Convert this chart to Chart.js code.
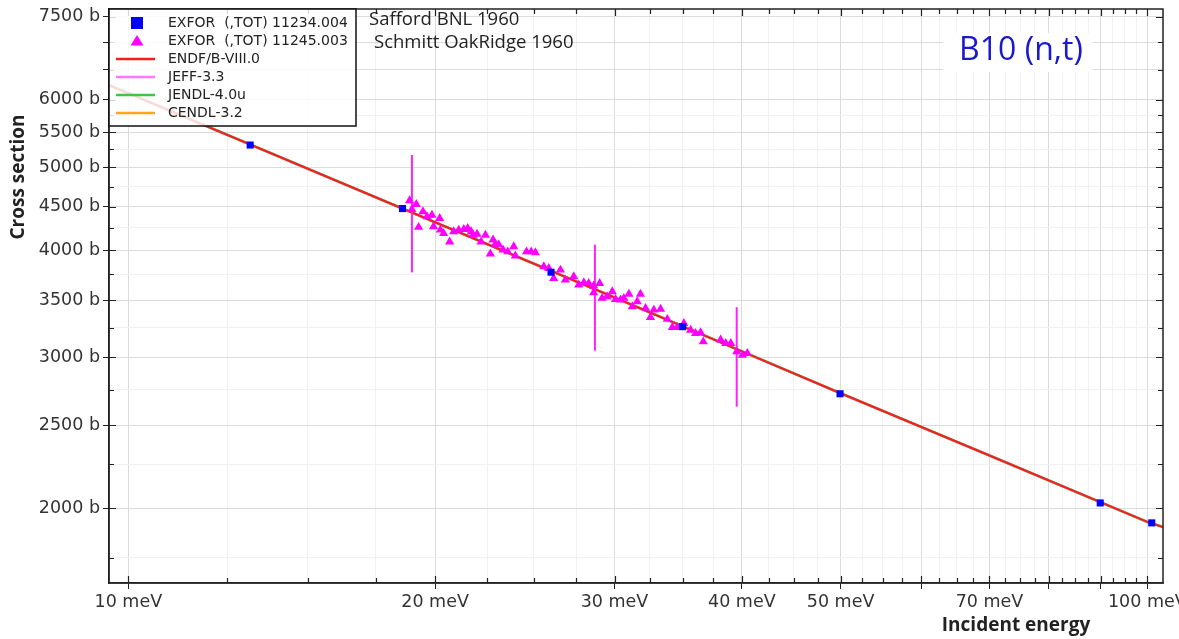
<!DOCTYPE html>
<html lang="en">
<head>
<meta charset="UTF-8">
<title>B10 (n,t) cross section</title>
<script src="https://cdn.jsdelivr.net/npm/chart.js"></script>
<style>
    body, html {
        margin: 0;
        padding: 0;
        background: #fff;
    }
    .graph-box {
        width: 1179px;
        height: 639px;
    }
</style>
</head>
<body>

<div class="graph-box">
    <canvas id="xsGraph" width="1179" height="639"></canvas>
</div>

<script>
// EXFOR 11234.004 - Safford BNL 1960 (energy in meV, cross section in b)
const saffordE  = [13.17, 18.58, 25.99, 34.99, 49.94, 89.9, 101.0];
const saffordXs = [5311, 4477, 3773, 3259, 2721, 2029, 1923];

// EXFOR 11245.003 - Schmitt OakRidge 1960
const schmittE = [18.88, 19.17, 18.98, 19.46, 19.27, 19.64, 19.86, 19.93, 20.21, 20.24,
                  20.39, 20.67, 20.86, 21.10, 21.34, 21.53, 21.70, 21.80, 21.99, 22.19,
                  22.41, 22.80, 22.92, 23.09, 22.66, 23.32, 23.57, 23.89, 23.98, 24.59,
                  24.85, 25.09, 25.57, 25.86, 26.15, 26.55, 26.85, 27.36, 27.67, 27.99,
                  28.30, 28.62, 28.62, 29.01, 29.17, 29.50, 29.85, 30.07, 30.41, 30.64,
                  30.99, 31.23, 31.58, 31.81, 32.18, 32.54, 32.79, 33.29, 33.80, 34.19,
                  34.57, 35.09, 35.63, 36.03, 36.44, 36.66, 38.13, 38.57, 39.01, 39.54,
                  40.05, 40.50];
const schmittXs = [4574, 4529, 4469, 4441, 4258, 4381, 4400, 4266, 4362, 4227,
                   4188, 4095, 4208, 4227, 4234, 4245, 4208, 4170, 4181, 4095,
                   4170, 4115, 4070, 4063, 3963, 4006, 3987, 4043, 3942, 3987,
                   3987, 3977, 3830, 3813, 3712, 3796, 3695, 3728, 3647, 3669,
                   3662, 3637, 3571, 3662, 3518, 3533, 3581, 3508, 3502, 3518,
                   3558, 3439, 3487, 3558, 3425, 3342, 3409, 3417, 3325, 3254,
                   3254, 3289, 3230, 3202, 3207, 3130, 3145, 3116, 3116, 3047,
                   3020, 3034];

// the three Schmitt error bars
const errE    = [18.98, 28.70, 39.54];
const errLow  = [3771, 3055, 2628];
const errHigh = [5171, 4063, 3434];

// evaluated curves (ENDF, JEFF, JENDL, CENDL all lie on top of each other)
const evalE  = [9.573, 20, 30, 40, 50, 70, 100, 103.6];
const evalXs = [6240, 4315, 3525, 3050, 2725, 2305, 1928, 1902];

// axis ticks
const xLabelTicks = [10, 20, 30, 40, 50, 70, 100];
const xMajorTicks = [10, 20, 30, 40, 50, 60, 70, 80, 90, 100];
const xMinorTicks = [12.5, 15, 17.5, 22.5, 25, 27.5, 32.5, 35, 37.5, 42.5, 45, 47.5,
                     52.5, 55, 57.5, 62.5, 65, 67.5, 72.5, 75, 77.5, 82.5, 85, 87.5,
                     92.5, 95, 97.5];
const yLabelTicks = [2000, 2500, 3000, 3500, 4000, 4500, 5000, 5500, 6000, 7500];
const yMajorTicks = [2000, 2500, 3000, 3500, 4000, 4500, 5000, 5500, 6000, 6500, 7000, 7500];
const yMinorTicks = [1750, 2250, 2750, 3250, 3750, 4250, 4750, 5250, 5750];

function toPoints(xs, ys) {
    return xs.map(function (x, i) { return { x: x, y: ys[i] }; });
}

var datasets = [];
datasets.push({
    label: 'EXFOR  (,TOT) 11234.004',
    data: toPoints(saffordE, saffordXs),
    pointStyle: 'rect', pointRadius: 5,
    backgroundColor: '#0000ff', borderColor: '#0000ff', borderWidth: 0,
    legendMark: 'rect', order: 0
});
datasets.push({
    label: 'EXFOR  (,TOT) 11245.003',
    data: toPoints(schmittE, schmittXs),
    pointStyle: 'triangle', pointRadius: 5.3,
    backgroundColor: '#ff00ff', borderColor: '#ff00ff', borderWidth: 0,
    legendMark: 'triangle', order: 1
});
// error bars, not in legend
for (let i = 0; i < errE.length; i++) {
    datasets.push({
        label: 'err' + i,
        data: [{ x: errE[i], y: errLow[i] }, { x: errE[i], y: errHigh[i] }],
        showLine: true, pointRadius: 0,
        borderColor: '#ff22ff', borderWidth: 2, order: 2
    });
}
datasets.push({
    label: 'ENDF/B-VIII.0', data: toPoints(evalE, evalXs),
    showLine: true, pointRadius: 0, borderColor: '#f0201a', borderWidth: 2,
    legendMark: 'line', order: 3
});
datasets.push({
    label: 'JEFF-3.3', data: toPoints(evalE, evalXs),
    showLine: true, pointRadius: 0, borderColor: '#ff77ff', borderWidth: 2,
    legendMark: 'line', order: 4
});
datasets.push({
    label: 'JENDL-4.0u', data: toPoints(evalE, evalXs),
    showLine: true, pointRadius: 0, borderColor: '#3cc83c', borderWidth: 2.6,
    legendMark: 'line', order: 5
});
datasets.push({
    label: 'CENDL-3.2', data: toPoints(evalE, evalXs),
    showLine: true, pointRadius: 0, borderColor: '#ffa51e', borderWidth: 2,
    legendMark: 'line', order: 6
});

// frame, inner ticks, legend box and the text notes
const decorPlugin = {
    id: 'decor',
    afterDatasetsDraw(chart) {
        const ctx = chart.ctx;
        const a = chart.chartArea;
        const xs = chart.scales.x, ys = chart.scales.y;
        ctx.save();

        // frame
        ctx.strokeStyle = '#222';
        ctx.lineWidth = 1.5;
        ctx.strokeRect(a.left, a.top, a.right - a.left, a.bottom - a.top);

        // inner ticks on all four sides
        ctx.lineWidth = 1.2;
        ctx.beginPath();
        xMajorTicks.concat(xMinorTicks).forEach(function (v) {
            const px = Math.round(xs.getPixelForValue(v)) + 0.5;
            const len = xMajorTicks.includes(v) ? 7 : 5;
            ctx.moveTo(px, a.bottom); ctx.lineTo(px, a.bottom - len);
            ctx.moveTo(px, a.top); ctx.lineTo(px, a.top + len);
        });
        yMajorTicks.concat(yMinorTicks).forEach(function (v) {
            const py = Math.round(ys.getPixelForValue(v)) + 0.5;
            const len = yLabelTicks.includes(v) ? 7 : 5;
            ctx.moveTo(a.left, py); ctx.lineTo(a.left + len, py);
            ctx.moveTo(a.right, py); ctx.lineTo(a.right - len, py);
        });
        ctx.stroke();

        // legend box
        const bx = a.left, by = a.top, bw = 247, bh = 117;
        ctx.fillStyle = 'rgba(255,255,255,0.82)';
        ctx.fillRect(bx, by, bw, bh);
        ctx.strokeStyle = '#111';
        ctx.lineWidth = 1.5;
        ctx.strokeRect(bx, by, bw, bh);

        ctx.font = '14px "DejaVu Sans"';
        ctx.textBaseline = 'middle';
        ctx.textAlign = 'left';
        let row = 0;
        chart.data.datasets.forEach(function (ds) {
            if (!ds.legendMark) return;
            const cy = by + 14 + row * 18;
            const cx = bx + 28;
            ctx.fillStyle = ds.borderColor;
            ctx.strokeStyle = ds.borderColor;
            if (ds.legendMark === 'rect') {
                ctx.fillRect(cx - 6, cy - 6, 12, 12);
            } else if (ds.legendMark === 'triangle') {
                ctx.beginPath();
                ctx.moveTo(cx, cy - 6);
                ctx.lineTo(cx + 6.5, cy + 4.5);
                ctx.lineTo(cx - 6.5, cy + 4.5);
                ctx.closePath();
                ctx.fill();
            } else {
                ctx.lineWidth = 2.5;
                ctx.beginPath();
                ctx.moveTo(bx + 7, cy); ctx.lineTo(bx + 46, cy);
                ctx.stroke();
            }
            ctx.fillStyle = '#222';
            ctx.fillText(ds.label, bx + 59, cy);
            row++;
        });
        ctx.restore();
    },
    afterDraw(chart) {
        const ctx = chart.ctx;
        ctx.save();
        ctx.textBaseline = 'middle';

        // references of the two experiments
        ctx.fillStyle = '#222';
        ctx.font = '18.5px "Open Sans"';
        ctx.textAlign = 'left';
        ctx.fillText('Safford BNL 1960', 369, 20);
        ctx.fillText('Schmitt OakRidge 1960', 374, 43);

        // reaction label
        ctx.fillStyle = '#fff';
        ctx.fillRect(943, 33, 150, 39);
        ctx.fillStyle = '#1a1acc';
        ctx.font = '32px "Open Sans"';
        ctx.textAlign = 'center';
        ctx.fillText('B10 (n,t)', 1021, 51);

        // axis titles
        ctx.fillStyle = '#222';
        ctx.font = 'bold 19px "Open Sans"';
        ctx.fillText('Incident energy', 1016, 626);
        ctx.translate(19, 177);
        ctx.rotate(-Math.PI / 2);
        ctx.font = 'bold 19px "Open Sans"';
        ctx.fillText('Cross section', 0, 0);
        ctx.restore();
    }
};

function setTicks(list) {
    return function (scale) {
        scale.ticks = list.map(function (v) { return { value: v }; });
    };
}

var ctxGraph = document.getElementById('xsGraph').getContext('2d');
var xsChart = new Chart(ctxGraph, {
    type: 'scatter',
    data: { datasets: datasets },
    options: {
        responsive: false,
        animation: false,
        layout: { padding: { top: 9, right: 16, left: 0, bottom: 0 } },
        plugins: {
            legend: { display: false },
            tooltip: { enabled: false }
        },
        scales: {
            x: {
                type: 'logarithmic',
                min: 9.573,
                max: 103.6,
                afterBuildTicks: setTicks(xMajorTicks.concat(xMinorTicks).sort(function (p, q) { return p - q; })),
                afterFit: function (scale) {
                    scale.height = 56;
                    scale.paddingLeft = 0;
                    scale.paddingRight = 0;
                },
                border: { color: '#222', width: 1.5 },
                grid: {
                    color: function (c) { return c.tick && xMajorTicks.includes(c.tick.value) ? '#dcdcdc' : '#f1f1f1'; },
                    tickColor: function (c) { return c.tick && xMajorTicks.includes(c.tick.value) ? '#222' : 'rgba(0,0,0,0)'; },
                    tickLength: 6
                },
                ticks: {
                    autoSkip: false,
                    maxRotation: 0,
                    padding: 3,
                    color: '#333',
                    font: { family: 'DejaVu Sans', size: 17.5 },
                    callback: function (value) {
                        return xLabelTicks.includes(value) ? value + ' meV' : '';
                    }
                }
            },
            y: {
                type: 'logarithmic',
                min: 1636,
                max: 7656,
                afterBuildTicks: setTicks(yMajorTicks.concat(yMinorTicks).sort(function (p, q) { return p - q; })),
                afterFit: function (scale) {
                    scale.width = 109;
                    scale.paddingTop = 0;
                    scale.paddingBottom = 0;
                },
                border: { color: '#222', width: 1.5 },
                grid: {
                    color: function (c) { return c.tick && yMajorTicks.includes(c.tick.value) ? '#dcdcdc' : '#f1f1f1'; },
                    tickColor: function (c) { return c.tick && yMajorTicks.includes(c.tick.value) ? '#222' : 'rgba(0,0,0,0)'; },
                    tickLength: 6
                },
                ticks: {
                    autoSkip: false,
                    padding: 3,
                    color: '#333',
                    font: { family: 'DejaVu Sans', size: 17.5 },
                    callback: function (value) {
                        return yLabelTicks.includes(value) ? value + ' b' : '';
                    }
                }
            }
        }
    },
    plugins: [decorPlugin]
});
</script>

</body>
</html>
